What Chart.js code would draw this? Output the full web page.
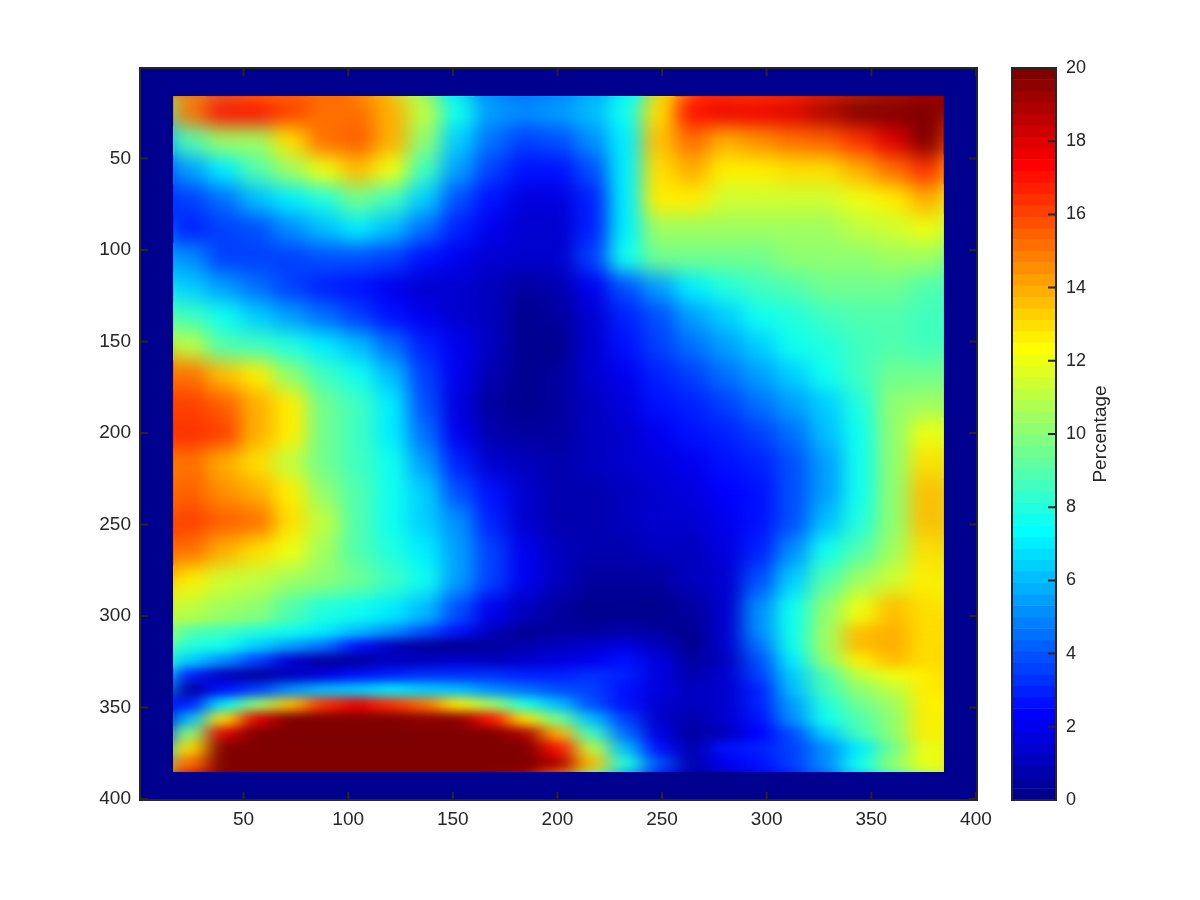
<!DOCTYPE html>
<html>
<head>
<meta charset="utf-8">
<title>Percentage map</title>
<script src="https://cdn.jsdelivr.net/npm/chart.js@4"></script>
<style>
  html, body { margin: 0; background: #fff; }
  #wrap { position: relative; width: 1200px; height: 900px; overflow: hidden; }
  canvas { position: absolute; top: 0; }
</style>
</head>
<body>
<div id="wrap">
  <canvas id="map" width="1000" height="900" style="left:0"></canvas>
  <canvas id="bar" width="200" height="900" style="left:1000px"></canvas>
</div>
<script>
// Axis ticks
const axisTicks = [50, 100, 150, 200, 250, 300, 350, 400];
const colorTicks = [0, 2, 4, 6, 8, 10, 12, 14, 16, 18, 20];

// Column centres and row edges of the grid
const columns = [24.5, 40.5, 56.5, 72.5, 88.5, 104.5, 120.5, 136.5, 152.5, 168.5, 184.5, 200.5, 216.5, 232.5, 248.5, 264.5, 280.5, 296.5, 312.5, 328.5, 344.5, 360.5, 376.5];
const rowEdges = [16, 32, 48, 64, 80, 96, 112, 128, 144, 160, 176, 192, 208, 224, 240, 256, 272, 288, 304, 312, 320, 328, 336, 344, 352, 360, 368, 376, 385];

// Percentage per row, top to bottom
const percentages = [
  [15, 17, 17, 16, 15, 15, 14, 11, 7.5, 5.5, 5, 5.5, 6, 7.5, 13, 17, 17.5, 17.5, 18, 19, 20, 20, 20],
  [9, 10.5, 10.5, 13, 15, 15.5, 14, 10, 6.5, 4.5, 3.5, 4, 5, 7, 13.5, 15, 14, 14.5, 15, 15.5, 16.5, 18, 20],
  [5.5, 7, 9, 10.5, 12, 13.5, 12, 8.5, 5.5, 3.5, 2.5, 2.5, 4, 7, 13, 14, 12.5, 12.5, 13, 13, 14, 15, 16.5],
  [3.5, 4.5, 6, 7, 8, 9.5, 8.5, 6.5, 4, 2.5, 1.8, 1.8, 3, 7, 12.5, 12.5, 11.5, 11.5, 11.5, 11.5, 12, 12.5, 14],
  [3, 3.5, 4, 5, 6, 7, 6, 4.5, 3, 2, 1.5, 1.5, 3, 7, 10.5, 10.5, 10.5, 10.5, 10.5, 10.5, 11, 11.5, 12],
  [5, 3.5, 3.5, 3.5, 4, 4, 3.5, 2.5, 2, 1.5, 1.3, 1.5, 3.5, 7.5, 9.5, 9.5, 9.5, 9.5, 10, 10, 10, 10.5, 10.5],
  [6.5, 5.5, 4.5, 3.5, 3, 2.5, 2, 1.5, 1.5, 1.2, 0.5, 0.8, 2, 4, 5.5, 7, 8, 8.5, 9, 9.5, 9.5, 9.5, 9],
  [8.5, 7.5, 6.5, 5.5, 4.5, 3.5, 2.5, 2, 1.5, 1, 0.2, 0.4, 1.5, 3, 4, 5.5, 6.5, 7.5, 8, 8.5, 9, 9, 8.5],
  [11, 9, 8.5, 8, 7, 6, 4.5, 3, 2, 1, 0.2, 0.3, 1.5, 2.5, 3.5, 4.5, 5.5, 6.5, 7.5, 8, 8.5, 9, 8.5],
  [15, 13.5, 12.5, 10, 8.5, 7.5, 6, 3.5, 2, 0.7, 0.2, 0.5, 1.5, 2, 3, 3.5, 4.5, 5.5, 6.5, 7.5, 8.5, 9.5, 9.5],
  [16, 15.5, 14, 12.5, 9.5, 8.5, 7, 4, 1.8, 0.5, 0.3, 0.6, 1.2, 1.8, 2.5, 3, 3.5, 4.5, 5.5, 6.5, 8, 10, 10.5],
  [16.5, 16, 14, 12.5, 9.5, 8.5, 7, 4.5, 2, 0.7, 0.4, 0.5, 1, 1.5, 2, 2.5, 3, 3.5, 4.5, 6, 7.5, 10, 12],
  [15, 14, 13, 11, 9.5, 8.5, 7.5, 5.5, 3, 1.5, 1, 0.8, 1, 1.3, 1.7, 2, 2.5, 3, 4, 5.5, 7.5, 10, 13],
  [15.5, 14.5, 14, 12.5, 10, 9, 7.5, 6.5, 4, 2.5, 1.3, 0.9, 0.9, 1.2, 1.5, 1.8, 2.2, 2.8, 4, 5.5, 7.5, 10, 13.5],
  [16, 15.5, 15, 13, 11, 9, 7.5, 6.5, 5, 3, 1.5, 0.9, 0.8, 1, 1.3, 1.5, 2, 2.8, 4, 6, 8, 10, 13.5],
  [15, 14, 13, 12, 10.5, 9, 8, 7, 5.5, 3.5, 2, 1, 0.7, 0.8, 1, 1.2, 1.6, 3, 5, 7.5, 9, 10.5, 13],
  [12.5, 11.5, 11, 10.5, 10, 9.5, 8.5, 7.5, 5.5, 3.5, 2, 1, 0.5, 0.4, 0.6, 1, 1.5, 4, 6.5, 9, 10.5, 11.5, 12.5],
  [11, 10.5, 10, 9, 8, 7.5, 7, 6, 4, 2, 1, 0.5, 0.3, 0.3, 0.3, 0.6, 1.5, 5, 7.5, 10, 12, 13.5, 13],
  [9, 8.5, 8, 7.5, 7, 6, 5, 4, 2.5, 1, 0.3, 0.4, 0.6, 0.8, 0.5, 0.3, 1.5, 5, 7.5, 10.5, 13.5, 14, 13],
  [8, 7.5, 6.5, 5.5, 4.5, 2.5, 1, 0.4, 0.3, 0.4, 0.8, 1, 1.3, 1.6, 1, 0.3, 1.3, 4.5, 7.5, 10.5, 13.5, 14, 13],
  [6.5, 5, 3.5, 1.5, 0.4, 0.6, 1, 1.2, 1.3, 1.2, 1.5, 1.8, 2, 2.5, 1.7, 0.4, 1.2, 4, 7, 10, 12.5, 13.5, 13],
  [3, 1, 0.4, 1, 1.8, 2.5, 3, 3.2, 3.3, 3.3, 3, 3, 3.3, 3, 1.8, 0.8, 1.3, 3.5, 6.5, 9, 11, 12, 12.5],
  [0.4, 2.5, 3.5, 5, 6, 6.5, 7, 6.5, 6, 5, 4.5, 4, 3.5, 2.8, 1.7, 1, 1.5, 3, 6, 8.5, 10, 11, 12.5],
  [3, 7, 10, 13.5, 16.5, 17.5, 16.5, 15, 12.5, 10.5, 8, 6, 4, 2.8, 1.5, 1, 1.5, 3, 5.5, 8, 9.5, 10.5, 12.5],
  [6, 13, 18, 20, 20, 20, 20, 19.5, 19.5, 17, 13, 9.5, 6, 3.5, 1.5, 0.8, 1.3, 2.5, 5, 7.5, 9, 10, 12.5],
  [10, 18, 20, 20, 20, 20, 20, 20, 20, 20, 19, 14, 8.5, 4.5, 1.8, 0.5, 1.2, 2.3, 4, 6.5, 8.5, 10, 12.5],
  [13, 20, 20, 20, 20, 20, 20, 20, 20, 20, 20, 17, 11, 6, 2.5, 0.8, 2.5, 3, 3.5, 5, 7, 9.5, 12],
  [15, 20, 20, 20, 20, 20, 20, 20, 20, 20, 20, 19, 13.5, 8, 4, 0.8, 2, 2.5, 3.5, 5, 7.5, 10, 12]
];

const inkColor = '#262626';
const fontFamily = '"Liberation Sans", Arial, sans-serif';

// MATLAB jet with 64 levels, 0 to 20
function jet(v) {
  const level = Math.min(63, Math.max(0, Math.floor(v / 20 * 64)));
  const t = (level + 1) / 64;
  const ch = (a) => Math.round(255 * Math.min(1, Math.max(0, a)));
  const r = ch(Math.min(4 * t - 1.5, -4 * t + 4.5));
  const g = ch(Math.min(4 * t - 0.5, -4 * t + 3.5));
  const b = ch(Math.min(4 * t + 0.5, -4 * t + 2.5));
  return `rgb(${r},${g},${b})`;
}

// Navy background behind the grid
const backdrop = {
  id: 'backdrop',
  beforeDatasetsDraw(chart) {
    const a = chart.chartArea;
    chart.ctx.save();
    chart.ctx.fillStyle = jet(0);
    chart.ctx.fillRect(a.left, a.top, a.width, a.height);
    chart.ctx.restore();
  }
};

// Smooths the drawn cells like interpolated shading, edges stay sharp.
// The lower rows are thinner, so they get less blur up and down.
const smoothCells = {
  id: 'smoothCells',
  afterDatasetsDraw(chart) {
    const { ctx, canvas, scales } = chart;
    const x0 = scales.x.getPixelForValue(columns[0] - 8);
    const x1 = scales.x.getPixelForValue(columns[columns.length - 1] + 8);
    const y0 = scales.y.getPixelForValue(rowEdges[0]);
    const y1 = scales.y.getPixelForValue(rowEdges[rowEdges.length - 1]);
    const w = x1 - x0, h = y1 - y0, m = 40, stretch = 2.2;
    const tmp = document.createElement('canvas');
    tmp.width = w + 2 * m;
    tmp.height = h + 2 * m;
    const t = tmp.getContext('2d');
    t.drawImage(canvas, x0, y0, w, h, 0, 0, tmp.width, tmp.height);
    t.drawImage(canvas, x0, y0, w, h, m, m, w, h);

    const tall = document.createElement('canvas');
    tall.width = tmp.width;
    tall.height = tmp.height * stretch;
    const s = tall.getContext('2d');
    s.filter = 'blur(11px)';
    s.drawImage(tmp, 0, 0, tall.width, tall.height);
    s.filter = 'none';
    const fadeFrom = (scales.y.getPixelForValue(288) - y0 + m) * stretch;
    const fadeTo = (scales.y.getPixelForValue(312) - y0 + m) * stretch;
    const fade = s.createLinearGradient(0, fadeFrom, 0, fadeTo);
    fade.addColorStop(0, 'rgba(0,0,0,0)');
    fade.addColorStop(1, 'rgba(0,0,0,1)');
    s.globalCompositeOperation = 'destination-in';
    s.fillStyle = fade;
    s.fillRect(0, 0, tall.width, tall.height);

    ctx.save();
    ctx.beginPath();
    ctx.rect(x0, y0, w, h);
    ctx.clip();
    ctx.filter = 'blur(10px)';
    ctx.drawImage(tmp, x0 - m, y0 - m, tmp.width, tmp.height);
    ctx.filter = 'none';
    ctx.drawImage(tall, x0 - m, y0 - m, tmp.width, tmp.height);
    ctx.restore();
  }
};

// Box and inward ticks
const frame = {
  id: 'frame',
  afterDraw(chart) {
    const { ctx, chartArea: a, scales } = chart;
    ctx.save();
    ctx.strokeStyle = inkColor;
    ctx.lineWidth = 2;
    ctx.beginPath();
    axisTicks.forEach(v => {
      const px = scales.x.getPixelForValue(v), py = scales.y.getPixelForValue(v);
      ctx.moveTo(px, a.bottom); ctx.lineTo(px, a.bottom - 8);
      ctx.moveTo(px, a.top); ctx.lineTo(px, a.top + 8);
      ctx.moveTo(a.left, py); ctx.lineTo(a.left + 8, py);
      ctx.moveTo(a.right, py); ctx.lineTo(a.right - 8, py);
    });
    ctx.stroke();
    ctx.strokeRect(a.left, a.top, a.width, a.height);
    ctx.restore();
  }
};

new Chart(document.getElementById('map'), {
  type: 'bar',
  data: {
    datasets: percentages.map((row, r) => ({
      data: row.map((v, c) => ({ x: columns[c], y: [rowEdges[r], rowEdges[r + 1]] })),
      backgroundColor: row.map(jet),
      borderWidth: 0,
      grouped: false,
      categoryPercentage: 1,
      barPercentage: 1
    }))
  },
  options: {
    responsive: false,
    animation: false,
    devicePixelRatio: 1,
    layout: { autoPadding: false, padding: { left: 60, right: 23, top: 68, bottom: 40 } },
    plugins: { legend: { display: false }, tooltip: { enabled: false } },
    scales: {
      x: {
        type: 'linear', min: 0.5, max: 400.5, offset: false,
        afterFit: s => { s.height = 60; },
        afterBuildTicks: s => { s.ticks = axisTicks.map(value => ({ value })); },
        grid: { display: false },
        border: { display: false },
        ticks: { color: inkColor, font: { family: fontFamily, size: 19 }, maxRotation: 0, autoSkip: false, padding: 0 }
      },
      y: {
        type: 'linear', min: 0.5, max: 400.5, reverse: true,
        afterFit: s => { s.width = 80; },
        afterBuildTicks: s => { s.ticks = axisTicks.map(value => ({ value })); },
        grid: { display: false },
        border: { display: false },
        ticks: { color: inkColor, font: { family: fontFamily, size: 19 }, autoSkip: false, padding: 1 }
      }
    }
  },
  plugins: [backdrop, smoothCells, frame]
});

// Colorbar
const barLevels = Array.from({ length: 64 }, (_, i) => i);
const barFrame = {
  id: 'barFrame',
  afterDraw(chart) {
    const { ctx, chartArea: a, scales } = chart;
    ctx.save();
    ctx.strokeStyle = inkColor;
    ctx.lineWidth = 2;
    ctx.beginPath();
    colorTicks.forEach(v => {
      const py = scales.c.getPixelForValue(v);
      ctx.moveTo(a.right, py); ctx.lineTo(a.right - 8, py);
    });
    ctx.stroke();
    ctx.strokeRect(a.left, a.top, a.width, a.height);
    ctx.translate(101, 434);
    ctx.rotate(-Math.PI / 2);
    ctx.fillStyle = inkColor;
    ctx.font = '19px ' + fontFamily;
    ctx.textAlign = 'center';
    ctx.textBaseline = 'middle';
    ctx.fillText('Percentage', 0, 0);
    ctx.restore();
  }
};

new Chart(document.getElementById('bar'), {
  type: 'bar',
  data: {
    labels: barLevels,
    datasets: [{
      data: barLevels.map(() => 1),
      backgroundColor: barLevels.map(i => jet((i + 0.5) * 20 / 64)),
      borderWidth: 0,
      categoryPercentage: 1,
      barPercentage: 1.05
    }]
  },
  options: {
    indexAxis: 'y',
    responsive: false,
    animation: false,
    devicePixelRatio: 1,
    layout: { autoPadding: false, padding: { left: 12, right: 0, top: 68, bottom: 100 } },
    plugins: { legend: { display: false }, tooltip: { enabled: false } },
    scales: {
      x: { min: 0, max: 1, display: false },
      y: { type: 'category', reverse: true, display: false },
      c: {
        axis: 'y', type: 'linear', position: 'right', min: 0, max: 20, offset: false,
        afterFit: s => { s.width = 144; },
        afterBuildTicks: s => { s.ticks = colorTicks.map(value => ({ value })); },
        grid: { display: false },
        border: { display: false },
        ticks: { color: inkColor, font: { family: fontFamily, size: 18 }, autoSkip: false, padding: 2 }
      }
    }
  },
  plugins: [barFrame]
});
</script>
</body>
</html>
